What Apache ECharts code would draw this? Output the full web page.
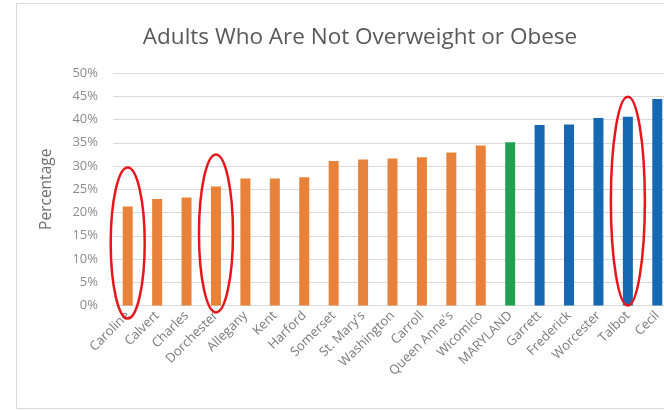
<!DOCTYPE html>
<html>
<head>
<meta charset="utf-8">
<script src="https://cdn.jsdelivr.net/npm/echarts@6/dist/echarts.min.js"></script>
<style>
html,body{margin:0;padding:0;background:#fff;}
#c{width:664px;height:410px;}
</style>
</head>
<body>
<div id="c"></div>
<script>
const categories = ["Caroline","Calvert","Charles","Dorchester","Allegany","Kent","Harford","Somerset","St. Mary's","Washington","Carroll","Queen Anne's","Wicomico","MARYLAND","Garrett","Frederick","Worcester","Talbot","Cecil"];
const values = [21.3,22.9,23.2,25.6,27.3,27.3,27.6,31.1,31.4,31.6,31.9,32.9,34.4,35.1,38.8,38.9,40.3,40.6,44.4];
const groups = ["low","low","low","low","low","low","low","low","low","low","low","low","low","state","high","high","high","high","high"];
const yTicks = [0,5,10,15,20,25,30,35,40,45,50];
const highlighted = ["Caroline","Dorchester","Talbot"];

const colorMap = {low:"#E8823A", state:"#21A052", high:"#1668B2"};

const chart = echarts.init(document.getElementById('c'), null, {renderer:'canvas'});
chart.setOption({
  animation:false,
  backgroundColor:'#fff',
  title:{
    text:'Adults Who Are Not Overweight or Obese',
    left:355, top:21, textAlign:'center',
    textStyle:{fontFamily:'Open Sans', fontSize:22.5, fontWeight:'normal', color:'#595959'}
  },
  grid:{left:113, width:559, top:73, bottom:104.5, containLabel:false, outerBoundsMode:'none'},
  xAxis:{
    type:'category',
    data:categories,
    axisLine:{lineStyle:{color:'#d9d9d9'}},
    axisTick:{show:false},
    axisLabel:{rotate:45, interval:0, color:'#7a7a7a', fontFamily:'Open Sans', fontSize:13, margin:8}
  },
  yAxis:{
    type:'value',
    min:yTicks[0], max:yTicks[yTicks.length-1], interval:yTicks[1]-yTicks[0],
    name:'Percentage', nameLocation:'middle', nameGap:58, nameRotate:90,
    nameTextStyle:{color:'#707070', fontFamily:'Open Sans', fontSize:15.5},
    axisLine:{show:false}, axisTick:{show:false},
    axisLabel:{formatter:'{value}%', color:'#8c8c8c', fontFamily:'Open Sans', fontSize:13, margin:15},
    splitLine:{lineStyle:{color:'#d9d9d9', width:1}}
  },
  series:[{
    type:'bar',
    barWidth:10,
    data:values.map((v,i)=>({value:v, itemStyle:{color:colorMap[groups[i]]}}))
  }]
});

// red annotation ellipses around highlighted bars, positioned from the data
const ellipses = highlighted.map(name=>{
  const i = categories.indexOf(name);
  const top = chart.convertToPixel({xAxisIndex:0,yAxisIndex:0},[i, values[i]]);
  const base = chart.convertToPixel({xAxisIndex:0,yAxisIndex:0},[i, 0]);
  const y0 = top[1] - (name==='Talbot'?20:(name==='Caroline'?39:32));
  const y1 = base[1] + (name==='Talbot'?0:(name==='Caroline'?13:7));
  return {
    type:'ellipse', z:100,
    shape:{cx:top[0], cy:(y0+y1)/2, rx:17, ry:(y1-y0)/2},
    style:{fill:'none', stroke:'#e8151b', lineWidth:2.5}, silent:true
  };
});
chart.setOption({graphic:[{
    type:'rect', shape:{x:16.5, y:3.5, width:700, height:405},
    style:{fill:'none', stroke:'#d9d9d9', lineWidth:1}, silent:true
  }].concat(ellipses)}, {replaceMerge:['graphic']});
</script>
</body>
</html>
